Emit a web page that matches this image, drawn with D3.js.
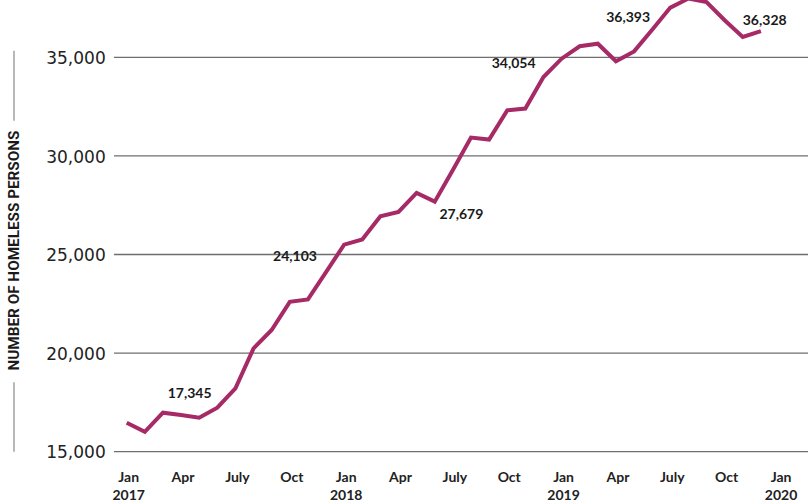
<!DOCTYPE html>
<html>
<head>
<meta charset="utf-8">
<script src="https://cdn.jsdelivr.net/npm/d3@7"></script>
<style>
  html, body { margin: 0; padding: 0; background: #fff; }
  svg { display: block; }
</style>
</head>
<body>
<svg id="chart" width="808" height="504"></svg>
<script>
// Monthly counts, Jan 2017 .. Dec 2019
const months = d3.range(36);
const homeless = [
  16470, 16010, 16980, 16860, 16720, 17230, 18210, 20240, 21170, 22600, 22720, 24103,
  25500, 25760, 26940, 27160, 28120, 27679, 29280, 30930, 30830, 32310, 32400, 34000,
  34930, 35560, 35690, 34800, 35300, 36393, 37520, 37980, 37800, 36880, 36030, 36328
];
const yTicks = [15000, 20000, 25000, 30000, 35000];
const xTickIdx = [0, 3, 6, 9, 12, 15, 18, 21, 24, 27, 30, 33, 36];
const xTickMonth = ["Jan", "Apr", "July", "Oct", "Jan", "Apr", "July", "Oct", "Jan", "Apr", "July", "Oct", "Jan"];
const xTickYear = ["2017", "", "", "", "2018", "", "", "", "2019", "", "", "", "2020"];
const annoIdx = [4, 11, 17, 23, 29, 35];
const annoText = ["17,345", "24,103", "27,679", "34,054", "36,393", "36,328"];
const yTitle = "NUMBER OF HOMELESS PERSONS";

const svg = d3.select("#chart");
const x = d3.scaleLinear().domain([0, 35]).range([126.7, 760.9]);
const y = d3.scaleLinear().domain([15000, 35000]).range([451.7, 57.3]);

// gridlines + y tick labels
const yAxis = d3.axisLeft(y).tickValues(yTicks).tickFormat(d3.format(",")).tickSize(0).tickPadding(0);
const gy = svg.append("g").attr("transform", "translate(105.7,0)").call(yAxis);
gy.select(".domain").remove();
gy.selectAll("text")
  .attr("font-family", "'DejaVu Sans', sans-serif")
  .attr("font-size", 17)
  .attr("fill", "#222")
  .attr("dy", "0.36em");
svg.append("g").selectAll("line").data(yTicks).join("line")
  .attr("x1", 114).attr("x2", 808)
  .attr("y1", d => y(d)).attr("y2", d => y(d))
  .attr("stroke", "#6e6e6e").attr("stroke-width", 1.3);

// x axis labels
const xAxis = d3.axisBottom(x).tickValues(xTickIdx).tickFormat((d, i) => xTickMonth[i]).tickSize(0).tickPadding(0);
const gx = svg.append("g").attr("transform", "translate(1.5,470)").call(xAxis);
gx.select(".domain").remove();
gx.selectAll("text")
  .attr("font-family", "Lato, sans-serif")
  .attr("font-weight", 700)
  .attr("font-size", 14)
  .attr("fill", "#222")
  .attr("dy", "0.85em");
gx.selectAll(".tick").append("text")
  .text((d, i) => xTickYear[i])
  .attr("y", 30)
  .attr("text-anchor", "middle")
  .attr("font-family", "Lato, sans-serif")
  .attr("font-weight", 700)
  .attr("font-size", 14)
  .attr("fill", "#222");

// y axis title with side rules
svg.append("text")
  .attr("transform", "translate(18.5,250.5) rotate(-90)")
  .attr("text-anchor", "middle")
  .attr("font-family", "Roboto, sans-serif")
  .attr("font-weight", 700)
  .attr("font-size", 15)
  .attr("fill", "#1a1a1a")
  .attr("textLength", 240)
  .attr("lengthAdjust", "spacingAndGlyphs")
  .text(yTitle);
svg.append("line").attr("x1", 14).attr("x2", 14).attr("y1", 50.7).attr("y2", 120.7)
  .attr("stroke", "#a0a0a0").attr("stroke-width", 1.5);
svg.append("line").attr("x1", 14).attr("x2", 14).attr("y1", 382.3).attr("y2", 451.7)
  .attr("stroke", "#a0a0a0").attr("stroke-width", 1.5);

// line
const line = d3.line().x((d, i) => x(months[i])).y(d => y(d));
svg.append("path")
  .datum(homeless)
  .attr("d", line)
  .attr("fill", "none")
  .attr("stroke", "#a52a66")
  .attr("stroke-width", 4)
  .attr("stroke-linejoin", "miter");

// annotations
const annoOffset = [[-9.5, -19.7], [-31, -11], [26.6, 17.3], [-29.8, -9.3], [-24, -8], [3.8, -6.3]];
svg.append("g").selectAll("text").data(annoIdx).join("text")
  .attr("x", (d, i) => x(d) + annoOffset[i][0])
  .attr("y", (d, i) => y(homeless[d]) + annoOffset[i][1])
  .attr("text-anchor", "middle")
  .attr("font-family", "Lato, sans-serif")
  .attr("font-weight", 700)
  .attr("font-size", 14)
  .attr("fill", "#1a1a1a")
  .text((d, i) => annoText[i]);
</script>
</body>
</html>
